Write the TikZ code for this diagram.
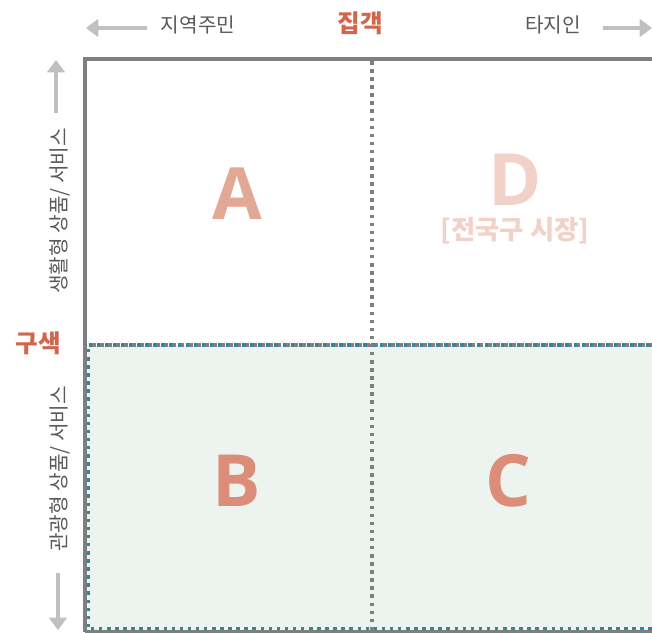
\documentclass[tikz,border=0pt]{standalone}
\usepackage{fontspec}
\setmainfont{Noto Sans CJK KR}
\newfontfamily\letterfont{Open Sans}
\usetikzlibrary{arrows.meta}

\definecolor{framegray}{HTML}{7F7F7F}
\definecolor{dotgray}{HTML}{808080}
\definecolor{dotteal}{HTML}{2F8797}
\definecolor{lowfill}{HTML}{EDF3EF}
\definecolor{arrowgray}{HTML}{C0C0C0}
\definecolor{labelgray}{HTML}{595959}
\definecolor{axisred}{HTML}{D2664C}
\definecolor{lettera}{HTML}{E3A796}
\definecolor{letterbc}{HTML}{DB8D79}
\definecolor{letterd}{HTML}{F2D1C8}

\tikzset{
  frameline/.style={draw=framegray,line width=2.3pt},
  graydots/.style={draw=dotgray,line width=2pt,dash pattern=on 2pt off 2.6pt},
  tealdots/.style={draw=dotteal,line width=2pt,dash pattern=on 2pt off 2.6pt},
  axisarrow/.style={draw=arrowgray,line width=2.6pt,-{Triangle[length=7pt,width=10pt]}},
  axislabel/.style={text=labelgray,font=\fontsize{11.5}{13}\selectfont,inner sep=0pt},
  axistitle/.style={text=axisred,font=\fontsize{14}{16}\bfseries\selectfont,inner sep=0pt},
  bigletter/.style={font=\letterfont\fontsize{41}{45}\bfseries\selectfont,inner sep=0pt}
}

\begin{document}
\begin{tikzpicture}[x=0.02cm,y=-0.02cm]
  \useasboundingbox (0,0) rectangle (652,632);

  % lower half (B, C)
  \fill[lowfill] (87,345) rectangle (652,630);
  \draw[tealdots] (652,629) -- (88,629) -- (88,345) -- (652,345);
  \draw[graydots,dash phase=2.3pt] (88,345) -- (652,345);
  \draw[draw=framegray,line width=1.2pt] (85,631.5) -- (652,631.5);

  % frame and middle line
  \draw[frameline] (652,59) -- (85,59) -- (85,632);
  \draw[graydots] (372,61) -- (372,632);

  % axis labels
  \begin{scope}[every node/.style={axislabel}]
    \node (local)  at (198,25) {지역주민};
    \node (outer)  at (553,25) {타지인};
    \node[rotate=90] (daily)  at (60,211) {생활형 상품/ 서비스};
    \node[rotate=90] (tour)   at (60,469) {관광형 상품/ 서비스};
  \end{scope}
  \node[axistitle] (visit) at (360,23) {집객};
  \node[axistitle] (range) at (38,343) {구색};

  % arrow ends
  \coordinate (localtail) at (147,28);
  \coordinate (localend)  at (86,28);
  \coordinate (outertail) at (603,28);
  \coordinate (outerend)  at (652,28);
  \coordinate (dailytail) at (56,113);
  \coordinate (dailyend)  at (56,60);
  \coordinate (tourtail)  at (58,573);
  \coordinate (tourend)   at (58,630);

  \draw[axisarrow] (localtail) -- (localend);
  \draw[axisarrow] (outertail) -- (outerend);
  \draw[axisarrow] (dailytail) -- (dailyend);
  \draw[axisarrow] (tourtail) -- (tourend);

  % quadrants
  \begin{scope}[every node/.style={bigletter}]
    \node[text=lettera]  (A) at (237,194) {A};
    \node[text=letterbc] (B) at (237,481) {B};
    \node[text=letterbc] (C) at (508,481) {C};
    \node[text=letterd]  (D) at (515,180) {D};
  \end{scope}
  \node[text=letterd,font=\fontsize{15}{17}\bfseries\selectfont,inner sep=0pt]
    (Dnote) at (515,231) {[전국구 시장]};

\end{tikzpicture}
\end{document}
